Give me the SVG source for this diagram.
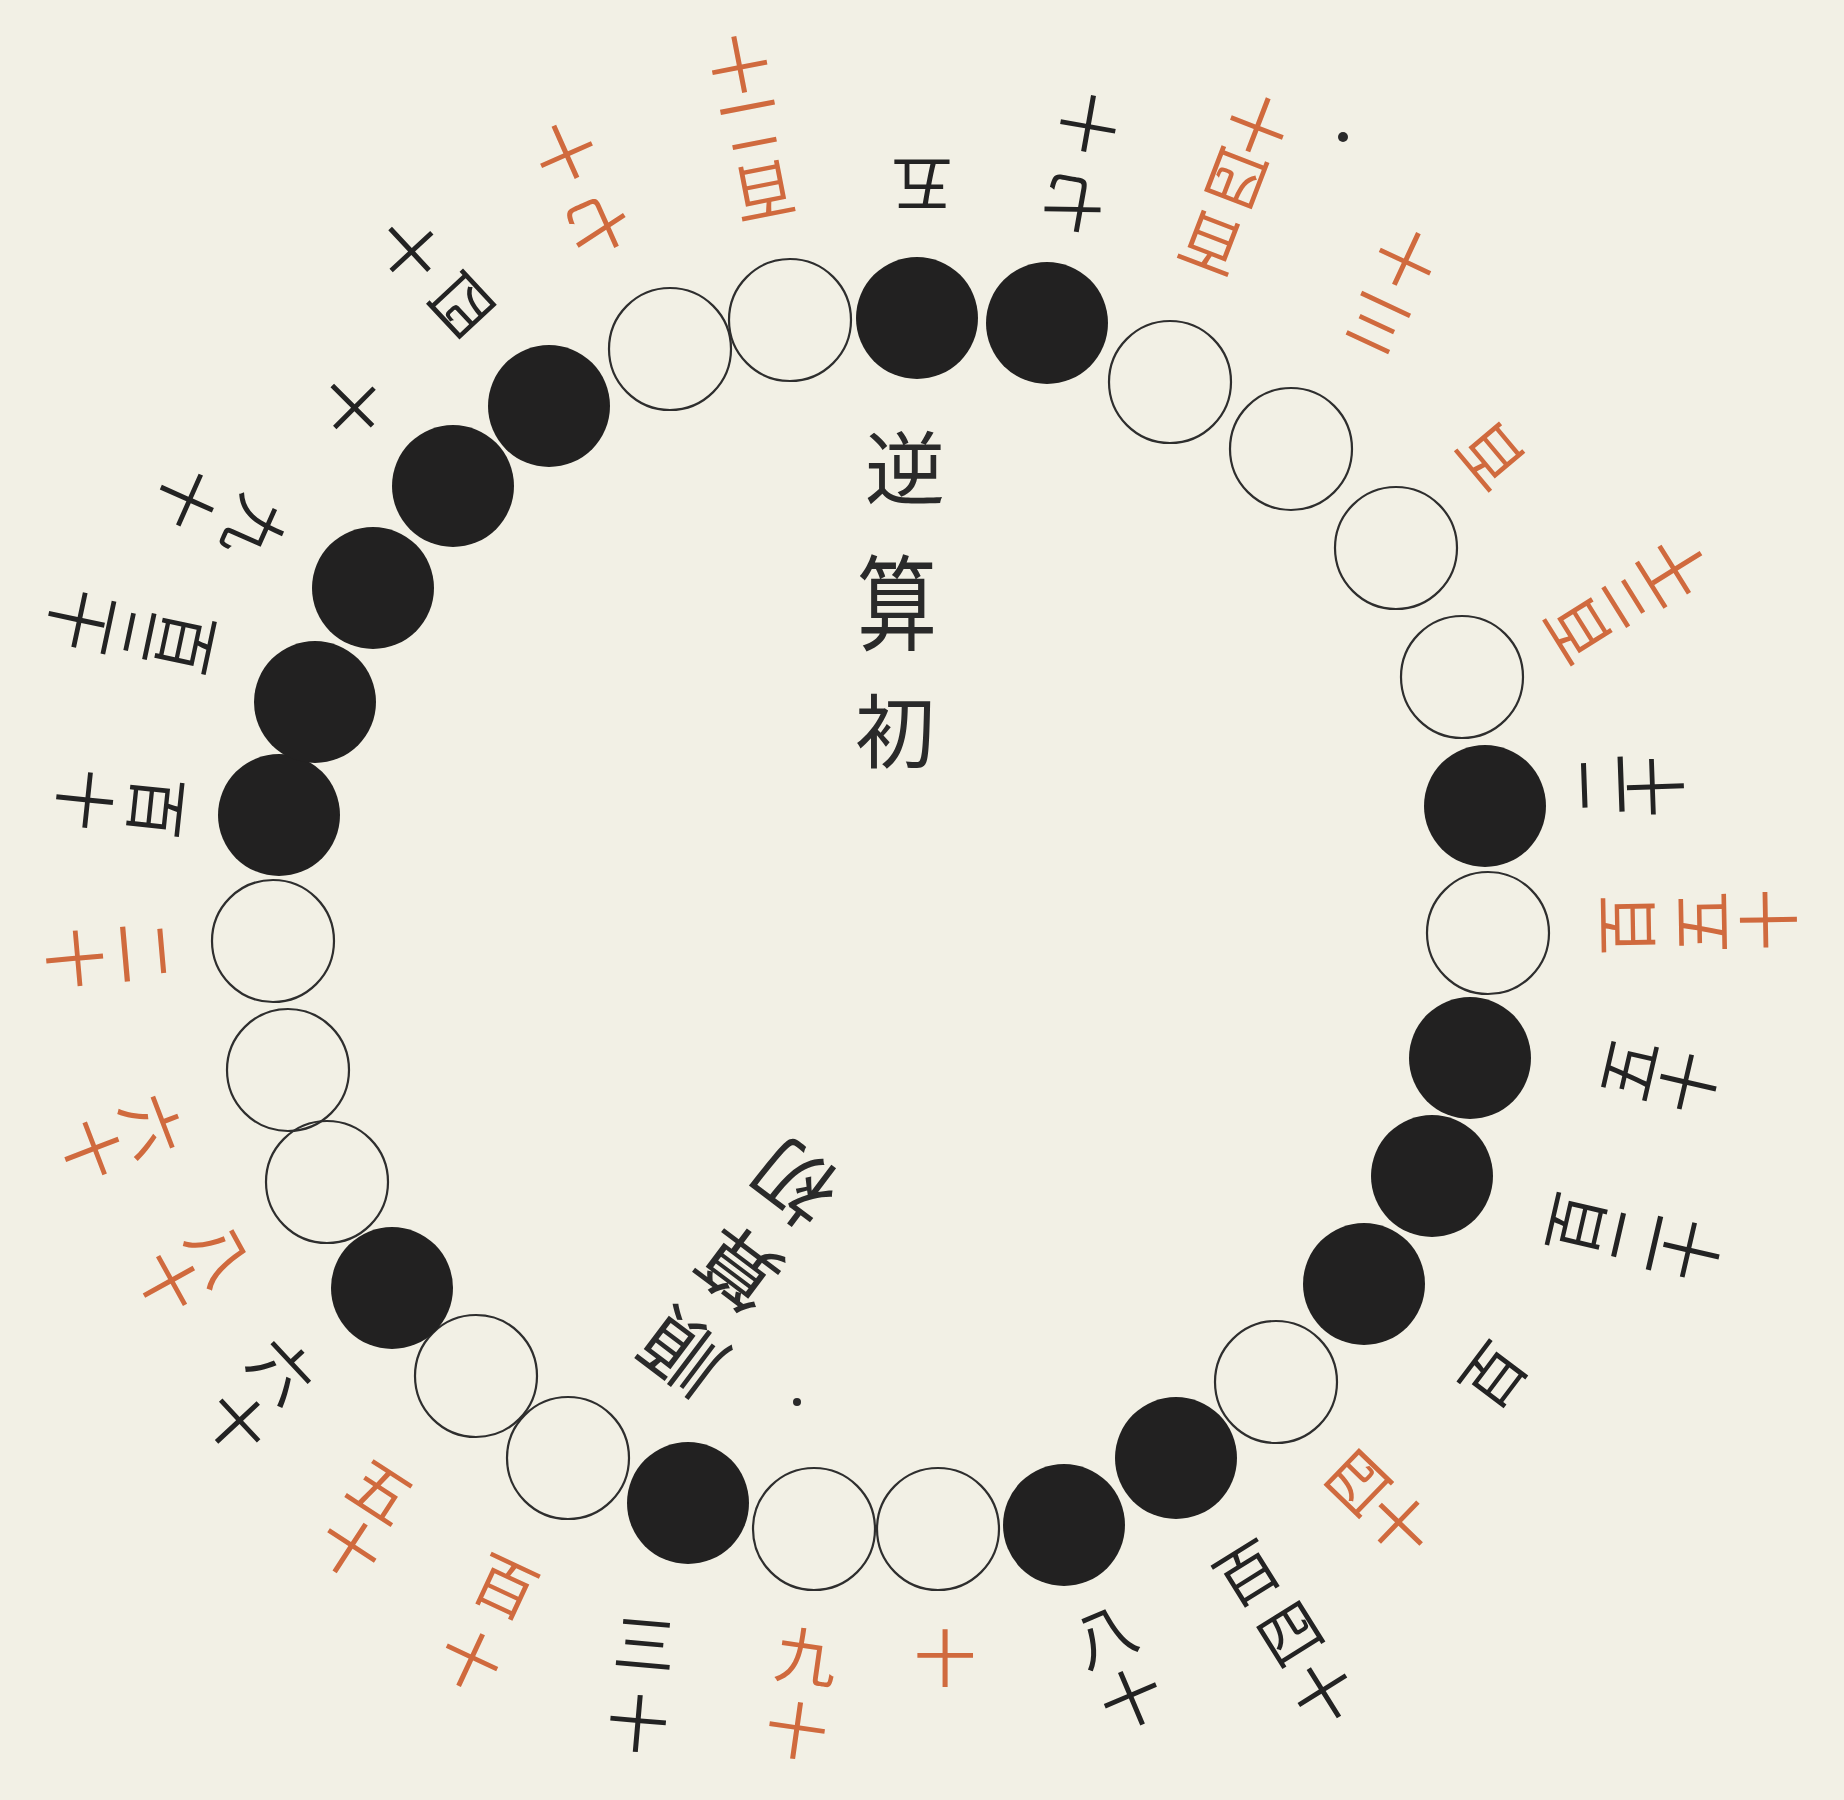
<svg xmlns="http://www.w3.org/2000/svg" width="1844" height="1800" viewBox="0 0 1844 1800">
<style>
  .bg{fill:#f2f0e5}
  .w{fill:none;stroke:#2e2e2e;stroke-width:2.2}
  .b{fill:#222121}
  text{font-family:"Noto Sans CJK JP","Noto Sans CJK SC",sans-serif;font-size:62px;text-anchor:middle;dominant-baseline:central}
  .k text{fill:#232323}
  .r text{fill:#d06a3e}
  .t text{fill:#2a2a2a;font-size:80px}
  .dot{fill:#2a2a2a}
</style>
<rect class="bg" x="0" y="0" width="1844" height="1800"/>
<g id="connectors"/>
<g id="title-reverse" class="t">
  <text transform="translate(905,463)">逆</text>
  <text transform="translate(897,598) scale(1,1.3)">算</text>
  <text transform="translate(895,726)">初</text>
</g>
<g id="title-forward" class="t">
  <text transform="translate(680,1357) rotate(-143)">順</text>
  <text transform="translate(736,1272) rotate(-143)">算</text>
  <text transform="translate(792,1187) rotate(-143)">初</text>
</g>
<g id="p1"><circle class="w" cx="670" cy="349" r="61"/>
  <g class="r"><text transform="translate(600,228) rotate(156)">七</text><text transform="translate(567,155) rotate(156)">十</text></g></g>
<g id="p2"><circle class="w" cx="790" cy="320" r="61"/>
  <g class="r"><text transform="translate(765,195) rotate(169)">百</text><text transform="translate(752,130) rotate(169)">二</text><text transform="translate(740,68) rotate(169)">十</text></g></g>
<g id="p3"><circle class="b" cx="917" cy="318" r="61"/>
  <g class="k"><text transform="translate(922,188) rotate(180)">五</text></g></g>
<g id="p4"><circle class="b" cx="1047" cy="323" r="61"/>
  <g class="k"><text transform="translate(1073,207) rotate(190)">七</text><text transform="translate(1088,127) rotate(190)">十</text></g></g>
<g id="p5"><circle class="w" cx="1170" cy="382" r="61"/>
  <g class="r"><text transform="translate(1210,247) rotate(201)">百</text><text transform="translate(1235,182) rotate(201)">四</text><text transform="translate(1257,128) rotate(201)">十</text></g></g>
<g id="p6"><circle class="w" cx="1291" cy="449" r="61"/>
  <g class="r"><text transform="translate(1375,327) rotate(205)">三</text><text transform="translate(1405,262) rotate(205)">十</text></g></g>
<g id="p7"><circle class="w" cx="1396" cy="548" r="61"/>
  <g class="r"><text transform="translate(1488,458) rotate(230)">百</text></g></g>
<g id="p8"><circle class="w" cx="1462" cy="677" r="61"/>
  <g class="r"><text transform="translate(1575,632) rotate(-122)">百</text><text transform="translate(1630,598) rotate(-122)">三</text><text transform="translate(1674,570) rotate(-122)">十</text></g></g>
<g id="p9"><circle class="b" cx="1485" cy="806" r="61"/>
  <g class="k"><text transform="translate(1598,785) rotate(-92)">二</text><text transform="translate(1652,787) rotate(-92)">十</text></g></g>
<g id="p10"><circle class="w" cx="1488" cy="933" r="61"/>
  <g class="r"><text transform="translate(1623,925) rotate(-91)">百</text><text transform="translate(1698,922) rotate(-91)">五</text><text transform="translate(1765,920) rotate(-91)">十</text></g></g>
<g id="p11"><circle class="b" cx="1470" cy="1058" r="61"/>
  <g class="k"><text transform="translate(1625,1068) rotate(-77)">五</text><text transform="translate(1685,1082) rotate(-77)">十</text></g></g>
<g id="p12"><circle class="b" cx="1432" cy="1176" r="61"/>
  <g class="k"><text transform="translate(1572,1223) rotate(-77)">百</text><text transform="translate(1632,1238) rotate(-77)">二</text><text transform="translate(1688,1250) rotate(-77)">十</text></g></g>
<g id="p13"><circle class="b" cx="1364" cy="1284" r="61"/>
  <g class="k"><text transform="translate(1490,1373) rotate(-53)">百</text></g></g>
<g id="p14"><circle class="w" cx="1276" cy="1382" r="61"/>
  <g class="r"><text transform="translate(1355,1480) rotate(-46)">四</text><text transform="translate(1398,1522) rotate(-46)">十</text></g></g>
<g id="p15"><circle class="b" cx="1176" cy="1458" r="61"/>
  <g class="k"><text transform="translate(1245,1570) rotate(-32)">百</text><text transform="translate(1288,1630) rotate(-32)">四</text><text transform="translate(1322,1690) rotate(-32)">十</text></g></g>
<g id="p16"><circle class="b" cx="1064" cy="1525" r="61"/>
  <g class="k"><text transform="translate(1103,1632) rotate(-23)">八</text><text transform="translate(1130,1695) rotate(-23)">十</text></g></g>
<g id="p17"><circle class="w" cx="938" cy="1529" r="61"/>
  <g class="r"><text transform="translate(945,1655)">十</text></g></g>
<g id="p18"><circle class="w" cx="814" cy="1529" r="61"/>
  <g class="r"><text transform="translate(807,1653) rotate(8)">九</text><text transform="translate(797,1727) rotate(8)">十</text></g></g>
<g id="p19"><circle class="b" cx="688" cy="1503" r="61"/>
  <g class="k"><text transform="translate(645,1640) rotate(5)">三</text><text transform="translate(638,1720) rotate(5)">十</text></g></g>
<g id="p20"><circle class="w" cx="568" cy="1458" r="61"/>
  <g class="r"><text transform="translate(507,1583) rotate(25)">百</text><text transform="translate(472,1657) rotate(25)">十</text></g></g>
<g id="p21"><circle class="w" cx="476" cy="1376" r="61"/>
  <g class="r"><text transform="translate(383,1488) rotate(33)">五</text><text transform="translate(352,1545) rotate(33)">十</text></g></g>
<g id="p22"><circle class="b" cx="392" cy="1288" r="61"/>
  <g class="k"><text transform="translate(285,1368) rotate(47)">六</text><text transform="translate(240,1420) rotate(47)">十</text></g></g>
<g id="p23"><circle class="w" cx="327" cy="1182" r="61"/>
  <g class="r"><text transform="translate(223,1252) rotate(61)">八</text><text transform="translate(172,1280) rotate(61)">十</text></g></g>
<g id="p24"><circle class="w" cx="288" cy="1070" r="61"/>
  <g class="r"><text transform="translate(155,1125) rotate(69)">六</text><text transform="translate(95,1148) rotate(69)">十</text></g></g>
<g id="p25"><circle class="w" cx="273" cy="941" r="61"/>
  <g class="r"><text transform="translate(148,952) rotate(85)">二</text><text transform="translate(78,958) rotate(85)">十</text></g></g>
<g id="p26"><circle class="b" cx="279" cy="815" r="61"/>
  <g class="k"><text transform="translate(160,808) rotate(96)">百</text><text transform="translate(88,800) rotate(96)">十</text></g></g>
<g id="p27"><circle class="b" cx="315" cy="702" r="61"/>
  <g class="k"><text transform="translate(190,644) rotate(102)">百</text><text transform="translate(133,633) rotate(102)">三</text><text transform="translate(80,620) rotate(102)">十</text></g></g>
<g id="p28"><circle class="b" cx="373" cy="588" r="61"/>
  <g class="k"><text transform="translate(258,530) rotate(114)">九</text><text transform="translate(190,500) rotate(114)">十</text></g></g>
<g id="p29"><circle class="b" cx="453" cy="486" r="61"/>
  <g class="k"><text transform="translate(355,408) rotate(135)">十</text></g></g>
<g id="p30"><circle class="b" cx="549" cy="406" r="61"/>
  <g class="k"><text transform="translate(465,308) rotate(137)">四</text><text transform="translate(412,252) rotate(137)">十</text></g></g>
<circle class="dot" cx="1343" cy="137" r="5"/>
<circle class="dot" cx="797" cy="1402" r="4"/>
</svg>
